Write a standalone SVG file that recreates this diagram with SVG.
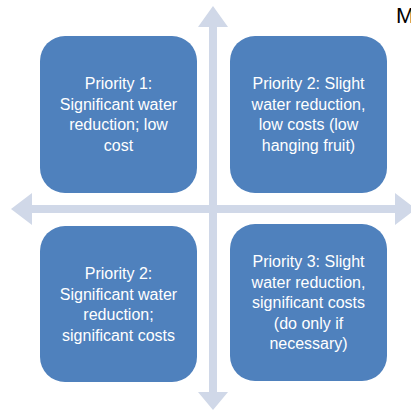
<svg xmlns="http://www.w3.org/2000/svg" width="411" height="411" viewBox="0 0 411 411">
  <style>
    .box { fill: #4f81bd; }
    .arrow { fill: #d0d8e8; }
    .lbl { font-family: "Liberation Sans", "Open Sans", sans-serif; font-size: 16px; fill: #ffffff; text-anchor: middle; }
  </style>
  <rect width="411" height="411" fill="#ffffff"/>
  <g id="connectors">
    <polygon class="arrow" points="213,6 228,27 217,27 217,392 228,392 213,410 198,392 209,392 209,27 198,27"/>
    <polygon class="arrow" points="11,209 32,193 32,205 395,205 395,193 416,209 395,225 395,213 32,213 32,225"/>
  </g>
  <g id="node1">
    <rect class="box" x="40" y="36" width="157" height="157" rx="25"/>
    <text class="lbl" x="118.5" y="89">Priority 1:</text>
    <text class="lbl" x="118.5" y="109.5">Significant water</text>
    <text class="lbl" x="118.5" y="130">reduction; low</text>
    <text class="lbl" x="118.5" y="150.5">cost</text>
  </g>
  <g id="node2">
    <rect class="box" x="230" y="36" width="157" height="157" rx="25"/>
    <text class="lbl" x="308.5" y="89">Priority 2: Slight</text>
    <text class="lbl" x="308.5" y="109.5">water reduction,</text>
    <text class="lbl" x="308.5" y="130">low costs (low</text>
    <text class="lbl" x="308.5" y="150.5">hanging fruit)</text>
  </g>
  <g id="node3">
    <rect class="box" x="40" y="226" width="157" height="156" rx="25"/>
    <text class="lbl" x="118.5" y="279">Priority 2:</text>
    <text class="lbl" x="118.5" y="299.5">Significant water</text>
    <text class="lbl" x="118.5" y="320">reduction;</text>
    <text class="lbl" x="118.5" y="340.5">significant costs</text>
  </g>
  <g id="node4">
    <rect class="box" x="230" y="224" width="157" height="157" rx="25"/>
    <text class="lbl" x="308.5" y="267">Priority 3: Slight</text>
    <text class="lbl" x="308.5" y="287.5">water reduction,</text>
    <text class="lbl" x="308.5" y="308">significant costs</text>
    <text class="lbl" x="308.5" y="328.5">(do only if</text>
    <text class="lbl" x="308.5" y="349">necessary)</text>
  </g>
  <text x="396" y="23" font-family="Liberation Sans, sans-serif" font-size="22" fill="#000000">M</text>
</svg>
